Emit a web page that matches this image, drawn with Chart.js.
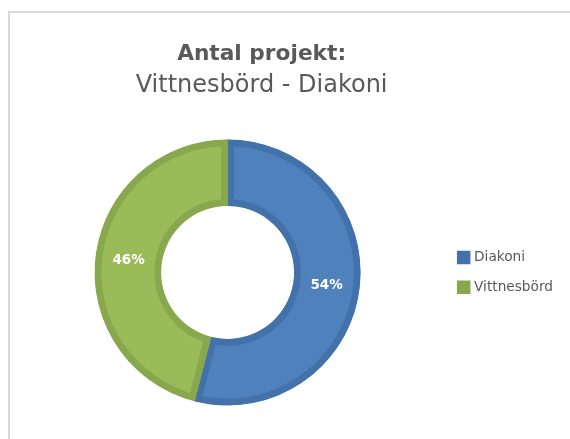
<!DOCTYPE html>
<html>
<head>
<meta charset="utf-8">
<script src="https://cdn.jsdelivr.net/npm/chart.js@4.4.1/dist/chart.umd.min.js"></script>
<style>
  body { margin:0; width:570px; height:439px; overflow:hidden; background:#fff; }
  #frame { position:absolute; left:8px; top:11px; width:700px; height:600px;
           border-left:2px solid #d9d9d9; border-top:2px solid #d9d9d9; }
  #myChart { position:absolute; left:0; top:0; }
</style>
</head>
<body>
<div id="frame"></div>
<canvas id="myChart" width="570" height="439"></canvas>

<script>
var titleText = 'Antal projekt:';
var subtitleText = 'Vittnesbörd - Diakoni';
var labels = ['Diakoni', 'Vittnesbörd'];
var values = [54, 46];
var fillColors = ['#4f81bd', '#9bbb59'];
var edgeColors = ['#4372aa', '#89a84e'];
var FONT = '"DejaVu Sans", sans-serif';

// percent labels in the middle of each ring slice
var sliceLabels = {
  id: 'sliceLabels',
  afterDatasetsDraw: function(chart) {
    var ctx = chart.ctx;
    var data = chart.data.datasets[0].data;
    var total = data.reduce(function(a, b) { return a + b; }, 0);
    ctx.save();
    ctx.font = 'bold 13.5px ' + FONT;
    ctx.fillStyle = '#ffffff';
    ctx.textAlign = 'center';
    ctx.textBaseline = 'middle';
    chart.getDatasetMeta(0).data.forEach(function(arc, i) {
      var p = arc.tooltipPosition();
      ctx.fillText(Math.round(data[i] / total * 100) + '%', p.x, p.y + 1);
    });
    ctx.restore();
  }
};

// the excel title sits a bit right of the ring centre, over ring + legend
var titleShift = {
  id: 'titleShift',
  afterLayout: function(chart) {
    var a = chart.chartArea;
    var want = (a.left + a.right) / 2 + 34;
    chart.boxes.forEach(function(b) {
      if (b.position === 'top') {
        var d = want - (b.left + b.right) / 2;
        b.left += d;
        b.right += d;
      }
    });
  }
};

var ctx = document.getElementById('myChart');
var config = {
  type: 'doughnut',
  data: {
    labels: labels,
    datasets: [{
      data: values,
      backgroundColor: fillColors,
      borderColor: edgeColors,
      borderWidth: 6.5,
      borderAlign: 'inner'
    }]
  },
  options: {
    responsive: false,
    animation: false,
    cutout: '50%',
    radius: 133,
    layout: { padding: { left: 11, right: 7, top: 0, bottom: 0 } },
    plugins: {
      title: {
        display: true,
        text: titleText,
        color: '#595959',
        font: { family: FONT, size: 21.7, weight: 'bold', lineHeight: 1.2 },
        padding: { top: 41, bottom: 0 }
      },
      subtitle: {
        display: true,
        text: subtitleText,
        color: '#595959',
        font: { family: FONT, size: 24, weight: 'normal', lineHeight: 1.2 },
        padding: { top: 4, bottom: 6 }
      },
      legend: {
        position: 'right',
        fullSize: false,
        labels: {
          boxWidth: 7,
          boxHeight: 7,
          padding: 16,
          color: '#595959',
          font: { family: FONT, size: 13.7 }
        }
      },
      tooltip: { enabled: false }
    }
  },
  plugins: [sliceLabels, titleShift]
};
var myChart = new Chart(ctx, config);
</script>
</body>
</html>
